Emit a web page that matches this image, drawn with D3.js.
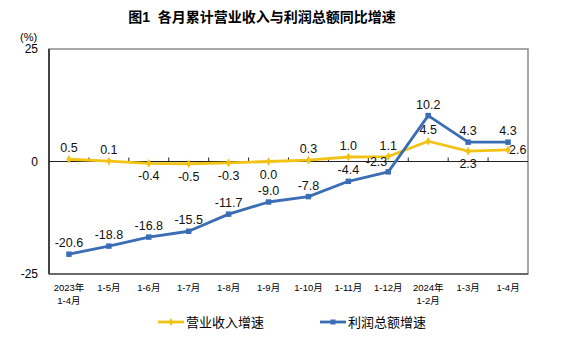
<!DOCTYPE html>
<html><head><meta charset="utf-8">
<script src="https://cdn.jsdelivr.net/npm/d3@7/dist/d3.min.js"></script>
<style>body{margin:0;background:#fff}svg{display:block}text{font-family:"Liberation Sans",Arial,"Noto Sans CJK SC",sans-serif}</style>
</head><body><svg id="c" width="562" height="360"></svg>
<script>
const categories = ["2023年\n1-4月","1-5月","1-6月","1-7月","1-8月","1-9月","1-10月","1-11月","1-12月","2024年\n1-2月","1-3月","1-4月"];
const revenue = [0.5,0.1,-0.4,-0.5,-0.3,0.0,0.3,1.0,1.1,4.5,2.3,2.6];
const profit = [-20.6,-18.8,-16.8,-15.5,-11.7,-9.0,-7.8,-4.4,-2.3,10.2,4.3,4.3];
const revenueLabelPos = ["up","up","down","down","down","down","up","up","up","up","down","right"];
const profitLabelPos = ["up","up","up","up","up","up","up","up","left","up","up","up"];
const yTicks = [25,0,-25];
const seriesNames = ["营业收入增速","利润总额增速"];
const title = "图1\u00a0\u00a0各月累计营业收入与利润总额同比增速";

const svg = d3.select("#c");
const W=562,H=360;
const m={l:49,r:34,t:49,b:86};
const x=d3.scaleBand().domain(d3.range(categories.length)).range([m.l,W-m.r]);
const y=d3.scaleLinear().domain([-25,25]).range([H-m.b,m.t]);
const cx=i=>x(i)+x.bandwidth()/2;
const YEL="#F2C314", BLU="#3A6DB3";

svg.append("text").attr("x",262).attr("y",22).attr("text-anchor","middle")
  .attr("font-size",14).attr("font-weight","bold").attr("fill","#000").text(title);

// frame
svg.append("rect").attr("x",m.l).attr("y",m.t).attr("width",W-m.r-m.l).attr("height",y(-25)-m.t)
  .attr("fill","none").attr("stroke","#8c8c8c").attr("stroke-width",1.5);
svg.append("line").attr("x1",m.l).attr("x2",m.l).attr("y1",m.t).attr("y2",y(-25)).attr("stroke","#222").attr("stroke-width",1.5);
svg.append("line").attr("x1",m.l).attr("x2",W-m.r).attr("y1",y(-25)).attr("y2",y(-25)).attr("stroke","#555").attr("stroke-width",1.5);

// zero axis
svg.append("line").attr("x1",m.l).attr("x2",W-m.r).attr("y1",y(0)).attr("y2",y(0)).attr("stroke","#222").attr("stroke-width",1.2);
svg.selectAll(".tk").data(d3.range(1,categories.length)).join("line")
  .attr("x1",i=>x(i)).attr("x2",i=>x(i)).attr("y1",y(0)).attr("y2",y(0)-4).attr("stroke","#222");

// y labels
svg.append("text").attr("x",20).attr("y",y(25)-8).attr("font-size",11).attr("font-family","'Liberation Serif',serif").text("(%)");
svg.selectAll(".yl").data(yTicks).join("text").attr("x",38).attr("y",d=>y(d)+4)
  .attr("text-anchor","end").attr("font-size",12)
  .attr("font-family",d=>d===25?"'Liberation Serif',serif":null).text(d=>d);

// x labels
svg.selectAll(".xl").data(categories).join("text").attr("text-anchor","middle").attr("font-size",9.5)
  .attr("x",(d,i)=>cx(i)).attr("y",y(-25)+17)
  .each(function(d){const t=d3.select(this);d.split("\n").forEach((s,k)=>t.append("tspan").attr("x",t.attr("x")).attr("dy",k?13:0).text(s));});

function series(vals,color,pos,marker){
  const line=d3.line().x((d,i)=>cx(i)).y(d=>y(d));
  svg.append("path").datum(vals).attr("d",line).attr("fill","none").attr("stroke",color).attr("stroke-width",2.8).attr("stroke-linejoin","round");
  svg.selectAll(null).data(vals).join("path")
    .attr("transform",(d,i)=>`translate(${cx(i)},${y(d)})`)
    .attr("d",d3.symbol(marker,marker===d3.symbolSquare?30:22)()).attr("fill",color);
  svg.selectAll(null).data(vals).join("text").attr("font-size",12.5).attr("fill","#111")
    .attr("text-anchor",(d,i)=>pos[i]==="right"?"start":pos[i]==="left"?"end":"middle")
    .attr("x",(d,i)=>cx(i)+(pos[i]==="right"?1:pos[i]==="left"?-1:0))
    .attr("y",(d,i)=>y(d)+(pos[i]==="up"?-7:pos[i]==="down"?17:pos[i]==="left"?-6:4))
    .text(d=>d.toFixed(1));
}
series(revenue,YEL,revenueLabelPos,d3.symbolDiamond);
series(profit,BLU,profitLabelPos,d3.symbolSquare);

// legend
const lg=[{n:seriesNames[0],c:YEL,x:158,m:d3.symbolDiamond},{n:seriesNames[1],c:BLU,x:320,m:d3.symbolSquare}];
lg.forEach(o=>{
  svg.append("line").attr("x1",o.x).attr("x2",o.x+26).attr("y1",322).attr("y2",322).attr("stroke",o.c).attr("stroke-width",2.8);
  svg.append("path").attr("transform",`translate(${o.x+13},322)`).attr("d",d3.symbol(o.m,o.m===d3.symbolSquare?25:18)()).attr("fill",o.c);
  svg.append("text").attr("x",o.x+28).attr("y",327).attr("font-size",13).text(o.n);
});
</script></body></html>
